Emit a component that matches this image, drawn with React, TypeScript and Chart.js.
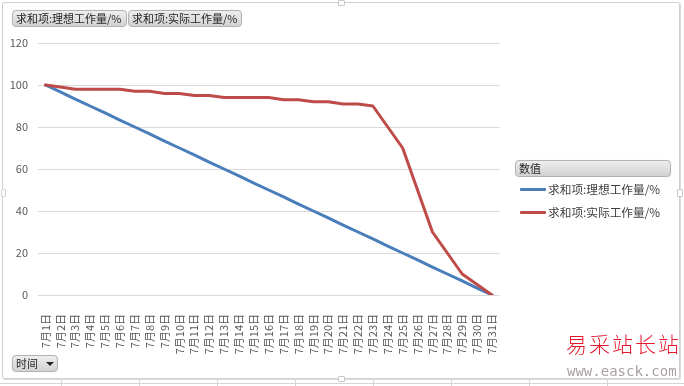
import React, { useEffect, useRef } from "react";
import { Chart, registerables } from "chart.js";

Chart.register(...registerables);

const categories = [
  "7月1日", "7月2日", "7月3日", "7月4日", "7月5日", "7月6日", "7月7日", "7月8日",
  "7月9日", "7月10日", "7月11日", "7月12日", "7月13日", "7月14日", "7月15日", "7月16日",
  "7月17日", "7月18日", "7月19日", "7月20日", "7月21日", "7月22日", "7月23日", "7月24日",
  "7月25日", "7月26日", "7月27日", "7月28日", "7月29日", "7月30日", "7月31日",
];

const idealLabel = "求和项:理想工作量/%";
const actualLabel = "求和项:实际工作量/%";

const idealValues = [
  100, 96.7, 93.3, 90, 86.7, 83.3, 80, 76.7, 73.3, 70, 66.7, 63.3, 60, 56.7, 53.3, 50,
  46.7, 43.3, 40, 36.7, 33.3, 30, 26.7, 23.3, 20, 16.7, 13.3, 10, 6.7, 3.3, 0,
];

const actualValues = [
  100, 99, 98, 98, 98, 98, 97, 97, 96, 96, 95, 95, 94, 94, 94, 94,
  93, 93, 92, 92, 91, 91, 90, 80, 70, 50, 30, 20, 10, 5, 0,
];

const yTicks = [0, 20, 40, 60, 80, 100, 120];

const BLUE = "#4a7ebb";
const RED = "#be4b48";
const FONT = '"Noto Sans CJK SC", "Noto Sans", sans-serif';

const btn: React.CSSProperties = {
  position: "absolute",
  height: 16,
  boxSizing: "border-box",
  background: "linear-gradient(#eeeeee, #d2d2d2)",
  border: "1px solid #b3b3b3",
  borderRadius: 4,
  fontFamily: FONT,
  fontSize: 11,
  lineHeight: "14px",
  color: "#262626",
  paddingLeft: 3,
  whiteSpace: "nowrap",
  boxShadow: "0 0 1px rgba(0,0,0,0.15)",
};

export default function App() {
  const ref = useRef<HTMLCanvasElement | null>(null);

  useEffect(() => {
    if (!ref.current) return;
    const chart = new Chart(ref.current, {
      type: "line",
      data: {
        labels: categories,
        datasets: [
          {
            label: idealLabel,
            data: idealValues,
            borderColor: BLUE,
            backgroundColor: BLUE,
            borderWidth: 3,
            pointRadius: 0,
            tension: 0,
            borderJoinStyle: "round",
            borderCapStyle: "round",
            order: 1,
          },
          {
            label: actualLabel,
            data: actualValues,
            borderColor: RED,
            backgroundColor: RED,
            borderWidth: 3,
            pointRadius: 0,
            tension: 0,
            borderJoinStyle: "round",
            borderCapStyle: "round",
            order: 0,
          },
        ],
      },
      options: {
        animation: false,
        responsive: false,
        devicePixelRatio: 1,
        layout: { padding: { top: 43, right: 184.6, bottom: 0, left: 0 } },
        plugins: {
          legend: { display: false },
          tooltip: { enabled: false },
        },
        scales: {
          x: {
            offset: true,
            grid: { display: false },
            border: { display: false },
            ticks: {
              autoSkip: false,
              maxRotation: 90,
              minRotation: 90,
              padding: 11,
              color: "#595959",
              font: { family: FONT, size: 11 },
            },
            afterFit: (s: any) => {
              s.height = 91;
            },
          },
          y: {
            min: 0,
            max: 120,
            afterBuildTicks: (s: any) => {
              s.ticks = yTicks.map((v) => ({ value: v }));
            },
            grid: { color: "#d9d9d9", lineWidth: 1, drawTicks: false },
            border: { display: false },
            ticks: {
              padding: 10,
              color: "#595959",
              font: { family: FONT, size: 11 },
            },
            afterFit: (s: any) => {
              s.width = 38;
            },
          },
        },
      },
    });
    return () => chart.destroy();
  }, []);

  const gridXs = [61, 139, 217, 295, 373, 451, 529, 607];

  return (
    <div
      style={{
        position: "absolute",
        left: 0,
        top: 0,
        width: 684,
        height: 386,
        overflow: "hidden",
        background: "#ffffff",
        fontFamily: FONT,
      }}
    >
      {/* spreadsheet cell lines below chart */}
      <div style={{ position: "absolute", left: 0, top: 383, width: 684, height: 0, borderTop: "1px solid #d4d4d4" }} />
      {gridXs.map((x) => (
        <div key={x} style={{ position: "absolute", left: x, top: 380, width: 0, height: 6, borderLeft: "1px solid #d4d4d4" }} />
      ))}
      {/* chart frame */}
      <div
        style={{
          position: "absolute",
          left: 2,
          top: 2,
          width: 678,
          height: 377,
          boxSizing: "border-box",
          border: "1px solid #d0d0d0",
          borderRadius: 2,
          background: "#ffffff",
          boxShadow: "1px 1px 0 #dcdcdc",
        }}
      />
      {/* frame handles */}
      <div style={{ position: "absolute", left: 338, top: 0, width: 5, height: 4, border: "1px solid #c8c8c8", background: "#fff", borderRadius: 1 }} />
      <div style={{ position: "absolute", left: 338, top: 376, width: 5, height: 4, border: "1px solid #c8c8c8", background: "#fff", borderRadius: 1 }} />
      <div style={{ position: "absolute", left: 677, top: 189, width: 4, height: 6, border: "1px solid #c8c8c8", background: "#fff", borderRadius: 1 }} />
      <div style={{ position: "absolute", left: 1, top: 189, width: 3, height: 6, border: "1px solid #d4d4d4", background: "#fff", borderRadius: 1 }} />

      <canvas
        ref={ref}
        width={684}
        height={386}
        style={{ position: "absolute", left: 0, top: 0, width: 684, height: 386 }}
      />

      {/* field buttons */}
      <div style={{ ...btn, left: 12, top: 10, width: 115, height: 17 }}>{idealLabel}</div>
      <div style={{ ...btn, left: 128, top: 10, width: 114, height: 17 }}>{actualLabel}</div>
      <div style={{ ...btn, left: 12, top: 355, width: 46, height: 17 }}>
        时间
        <span
          style={{
            position: "absolute",
            left: 33,
            top: 6,
            width: 0,
            height: 0,
            borderLeft: "4px solid transparent",
            borderRight: "4px solid transparent",
            borderTop: "4px solid #222",
          }}
        />
      </div>

      {/* legend */}
      <div style={{ ...btn, left: 515, top: 160, width: 156, height: 17 }}>数值</div>
      <div style={{ position: "absolute", left: 520, top: 188, width: 26, height: 3, background: BLUE, borderRadius: 1 }} />
      <div
        style={{
          position: "absolute",
          left: 548,
          top: 181,
          fontSize: 11.7,
          lineHeight: "16px",
          color: "#404040",
          whiteSpace: "nowrap",
        }}
      >
        {idealLabel}
      </div>
      <div style={{ position: "absolute", left: 520, top: 211, width: 26, height: 3, background: RED, borderRadius: 1 }} />
      <div
        style={{
          position: "absolute",
          left: 548,
          top: 204,
          fontSize: 11.7,
          lineHeight: "16px",
          color: "#404040",
          whiteSpace: "nowrap",
        }}
      >
        {actualLabel}
      </div>

      {/* watermark */}
      <div
        style={{
          position: "absolute",
          left: 566,
          top: 329,
          fontSize: 21,
          lineHeight: "28px",
          letterSpacing: 2,
          color: "#e8182c",
          fontWeight: 300,
          whiteSpace: "nowrap",
        }}
      >
        易采站长站
      </div>
      <div
        style={{
          position: "absolute",
          left: 567,
          top: 362,
          fontFamily: '"DejaVu Sans Mono", monospace',
          fontSize: 14,
          lineHeight: "18px",
          color: "#a9a1a1",
          whiteSpace: "nowrap",
        }}
      >
        www.easck.com
      </div>
    </div>
  );
}
